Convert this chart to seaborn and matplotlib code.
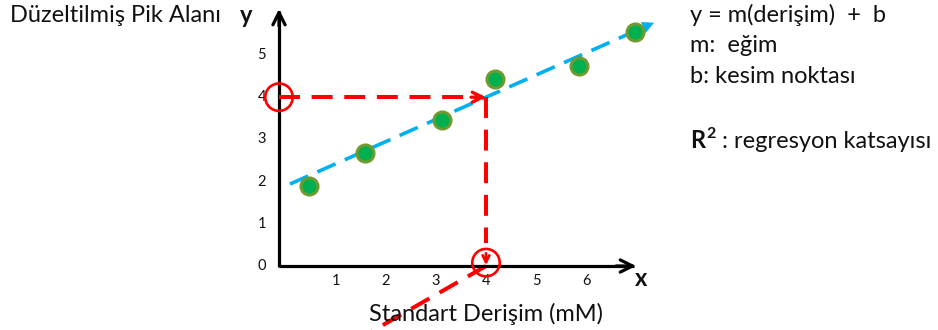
import numpy as np
import matplotlib
matplotlib.use("Agg")
import matplotlib.pyplot as plt
import seaborn as sns

# Calibration standards: concentration (mM) vs corrected peak area
concentration = [0.46, 1.58, 3.12, 4.18, 5.86, 6.98]
peak_area = [1.90, 2.68, 3.46, 4.43, 4.74, 5.55]

# Calibration line y = m * x + b
slope = 0.525
intercept = 1.90

# Unknown sample
unknown_area = 4.0

x_ticks = [1, 2, 3, 4, 5, 6]
y_ticks = [0, 1, 2, 3, 4, 5]

y_label = "Düzeltilmiş Pik Alanı"
x_label = "Standart Derişim (mM)"
notes = ["y = m(derişim)  +  b", "m:  eğim", "b: kesim noktası"]

sns.set_theme(style="white")
plt.rcParams["font.family"] = ["Lato", "DejaVu Sans"]

W, H = 938, 330
fig = plt.figure(figsize=(W / 100, H / 100), dpi=100)
ax = fig.add_axes([0, 0, 1, 1])

# data scale: origin at pixel (286, 266), 50 px per mM, 42.2 px per area unit
X0, Y0, SX, SY = 286, 266, 50.0, 42.2
ax.set_xlim(-X0 / SX, (W - X0) / SX)
ax.set_ylim((Y0 - H) / SY, Y0 / SY)
ax.axis("off")


def px(xp, yp):
    return (xp - X0) / SX, (Y0 - yp) / SY


BLUE = "#00B0F0"
RED = "#FF0000"
BLACK = "#000000"
TXT = "#111111"
FS = 17

# axes with open arrow heads
ax_x0 = px(279, 0)[0]
x_tip = px(636, 0)[0]
y_tip = px(0, 9)[1]
ax.plot([ax_x0, x_tip - 0.05], [0, 0], color=BLACK, lw=2.3, solid_capstyle="butt", zorder=3)
ax.plot([ax_x0, ax_x0], [-0.02, y_tip - 0.05], color=BLACK, lw=2.3, solid_capstyle="butt", zorder=3)
ax.annotate("", xy=(x_tip, 0), xytext=(x_tip - 0.4, 0),
            arrowprops=dict(arrowstyle="->", color=BLACK, lw=2.3, mutation_scale=22,
                            shrinkA=0, shrinkB=0), zorder=3)
ax.annotate("", xy=(ax_x0, y_tip), xytext=(ax_x0, y_tip - 0.4),
            arrowprops=dict(arrowstyle="->", color=BLACK, lw=2.3, mutation_scale=22,
                            shrinkA=0, shrinkB=0), zorder=3)

# tick labels
for t in x_ticks:
    ax.text(t, px(0, 281)[1], str(t), ha="center", va="center", fontsize=10.5, color=TXT)
for t in y_ticks:
    ax.text(px(266, 0)[0], t, str(t), ha="right", va="center", fontsize=10.5, color=TXT)

# calibration line with arrow head
x_line = np.array([0.08, 7.2])
ax.plot(x_line, slope * x_line + intercept, color=BLUE, lw=2.6,
        dashes=(5.5, 2.8), solid_capstyle="butt", zorder=2)
x_end = 7.36
ax.annotate("", xy=(x_end, slope * x_end + intercept),
            xytext=(x_end - 0.2, slope * (x_end - 0.2) + intercept),
            arrowprops=dict(arrowstyle="-|>", color=BLUE, lw=0.5, mutation_scale=19,
                            shrinkA=0, shrinkB=0), zorder=2)

# standards
sns.scatterplot(x=concentration, y=peak_area, s=150, color="#00B050",
                edgecolor="#6F9A30", linewidth=2.2, ax=ax, zorder=5, legend=False)

# reading the unknown off the line
x_unknown = (unknown_area - intercept) / slope
ax.plot([ax_x0, x_unknown - 0.08], [unknown_area, unknown_area], color=RED, lw=2.9,
        dashes=(5.2, 2.9), solid_capstyle="butt", zorder=4)
ax.annotate("", xy=(x_unknown, unknown_area), xytext=(x_unknown - 0.3, unknown_area),
            arrowprops=dict(arrowstyle="->", color=RED, lw=2.4, mutation_scale=18,
                            shrinkA=0, shrinkB=0), zorder=4)
ax.plot([x_unknown, x_unknown], [unknown_area, 0.55], color=RED, lw=2.9,
        dashes=(5.2, 2.9), solid_capstyle="butt", zorder=4)
ax.annotate("", xy=(x_unknown, 0.02), xytext=(x_unknown, 0.3),
            arrowprops=dict(arrowstyle="->", color=RED, lw=2.0, mutation_scale=12,
                            shrinkA=0, shrinkB=0), zorder=4)
diag_x = np.array([x_unknown, x_unknown - 4.0])
diag_y = np.array([0.0, -4.0 * (63 / 110) * SX / SY])
ax.plot(diag_x, diag_y, color=RED, lw=2.9, dashes=(5.2, 2.9),
        solid_capstyle="butt", zorder=1)

# circles marking the read values on each axis
ax.scatter([ax_x0, x_unknown], [unknown_area, 0.08], s=390, facecolors="none",
           edgecolors=RED, linewidths=1.9, zorder=6)

# axis titles
ax.text(*px(10, 22), y_label, ha="left", va="baseline", fontsize=FS, color=TXT)
ax.text(*px(246, 23), "y", ha="center", va="baseline", fontsize=17, fontweight="bold", color=TXT)
ax.text(*px(641, 286), "x", ha="center", va="baseline", fontsize=17, fontweight="bold", color=TXT)
ax.text(*px(486, 321), x_label, ha="center", va="baseline", fontsize=FS, color=TXT)

# equation notes
for i, line in enumerate(notes):
    ax.text(*px(690, 22 + 30.5 * i), line, ha="left", va="baseline", fontsize=FS, color=TXT)
r_txt = ax.text(*px(690, 148), "R", ha="left", va="baseline", fontsize=FS,
                fontweight="bold", color=TXT)
sup = ax.annotate("2", xy=(1, 0.93), xycoords=r_txt, xytext=(1, 2.5), textcoords="offset points",
                  ha="left", va="top", fontsize=11.5, fontweight="bold", color=TXT)
ax.annotate(" : regresyon katsayısı", xy=(1, 0), xycoords=(sup, r_txt), ha="left", va="bottom",
            fontsize=FS, color=TXT)

fig.savefig("out.png", dpi=100)
